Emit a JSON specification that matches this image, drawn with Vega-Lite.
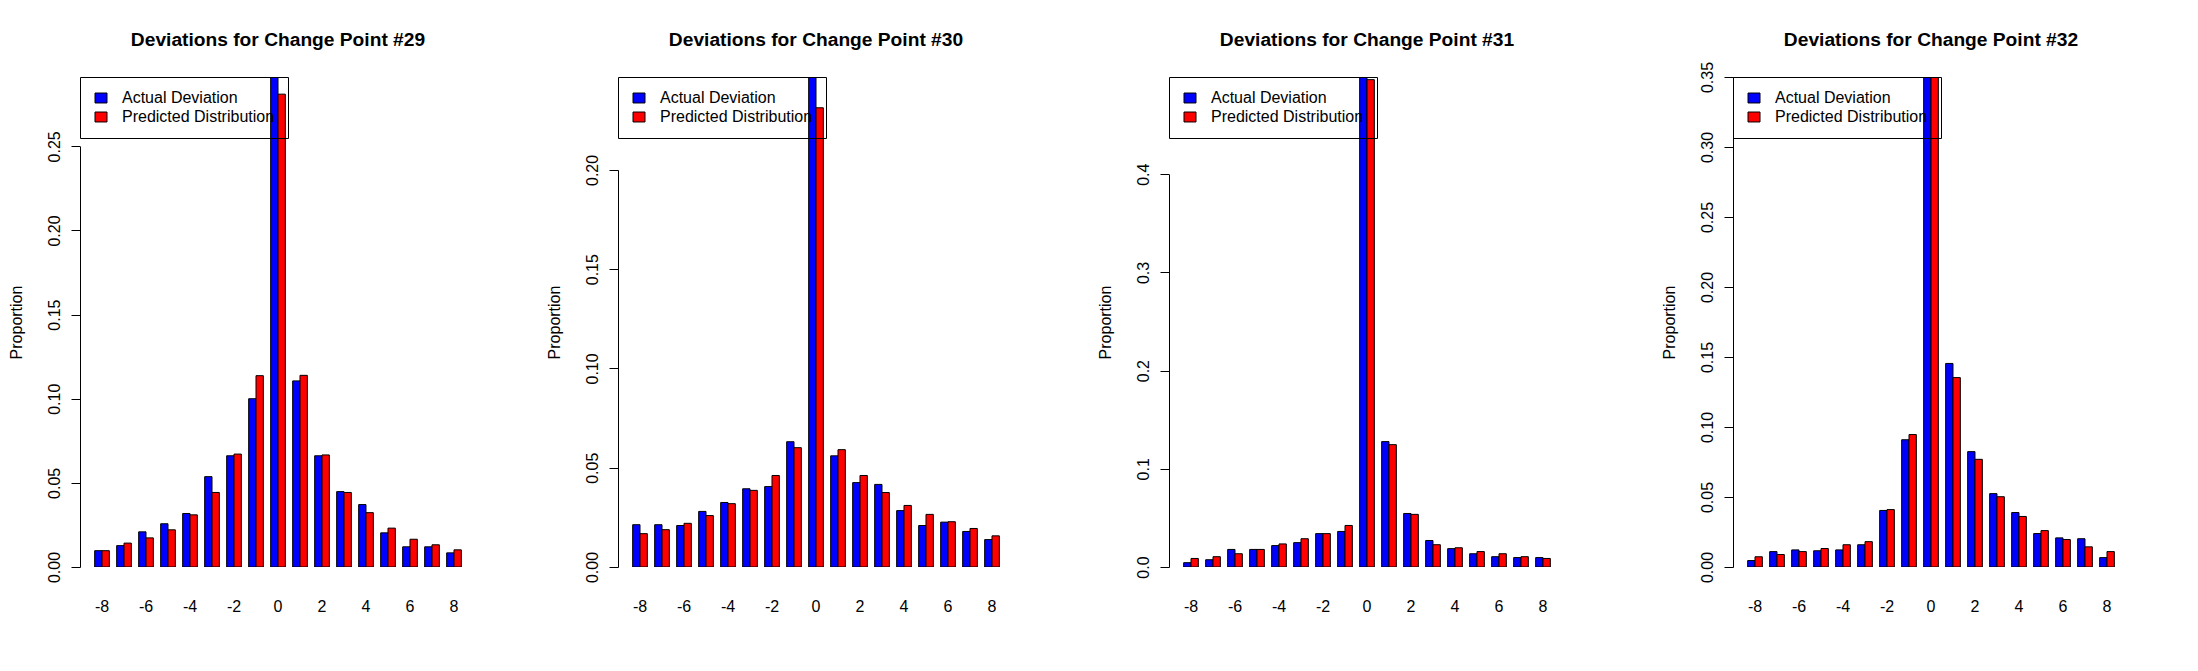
{
  "$schema": "https://vega.github.io/schema/vega-lite/v6.json",
  "description": "Actual deviation vs predicted distribution for change points 29-32.",
  "padding": {"left": 8, "top": 31, "right": 0, "bottom": 0},
  "background": "white",
  "datasets": {
    "cp29": [
      {"deviation": -8, "series": "Actual Deviation", "proportion": 0.0097}, {"deviation": -8, "series": "Predicted Distribution", "proportion": 0.0097},
      {"deviation": -7, "series": "Actual Deviation", "proportion": 0.0127}, {"deviation": -7, "series": "Predicted Distribution", "proportion": 0.0142},
      {"deviation": -6, "series": "Actual Deviation", "proportion": 0.0209}, {"deviation": -6, "series": "Predicted Distribution", "proportion": 0.0173},
      {"deviation": -5, "series": "Actual Deviation", "proportion": 0.0257}, {"deviation": -5, "series": "Predicted Distribution", "proportion": 0.0221},
      {"deviation": -4, "series": "Actual Deviation", "proportion": 0.0318}, {"deviation": -4, "series": "Predicted Distribution", "proportion": 0.0310},
      {"deviation": -3, "series": "Actual Deviation", "proportion": 0.0537}, {"deviation": -3, "series": "Predicted Distribution", "proportion": 0.0443},
      {"deviation": -2, "series": "Actual Deviation", "proportion": 0.0661}, {"deviation": -2, "series": "Predicted Distribution", "proportion": 0.0671},
      {"deviation": -1, "series": "Actual Deviation", "proportion": 0.1000}, {"deviation": -1, "series": "Predicted Distribution", "proportion": 0.1137},
      {"deviation": 0, "series": "Actual Deviation", "proportion": 0.2912}, {"deviation": 0, "series": "Predicted Distribution", "proportion": 0.2810},
      {"deviation": 1, "series": "Actual Deviation", "proportion": 0.1106}, {"deviation": 1, "series": "Predicted Distribution", "proportion": 0.1139},
      {"deviation": 2, "series": "Actual Deviation", "proportion": 0.0661}, {"deviation": 2, "series": "Predicted Distribution", "proportion": 0.0666},
      {"deviation": 3, "series": "Actual Deviation", "proportion": 0.0448}, {"deviation": 3, "series": "Predicted Distribution", "proportion": 0.0443},
      {"deviation": 4, "series": "Actual Deviation", "proportion": 0.0371}, {"deviation": 4, "series": "Predicted Distribution", "proportion": 0.0323},
      {"deviation": 5, "series": "Actual Deviation", "proportion": 0.0203}, {"deviation": 5, "series": "Predicted Distribution", "proportion": 0.0231},
      {"deviation": 6, "series": "Actual Deviation", "proportion": 0.0120}, {"deviation": 6, "series": "Predicted Distribution", "proportion": 0.0165},
      {"deviation": 7, "series": "Actual Deviation", "proportion": 0.0120}, {"deviation": 7, "series": "Predicted Distribution", "proportion": 0.0132},
      {"deviation": 8, "series": "Actual Deviation", "proportion": 0.0084}, {"deviation": 8, "series": "Predicted Distribution", "proportion": 0.0102}
    ],
    "cp30": [
      {"deviation": -8, "series": "Actual Deviation", "proportion": 0.0213}, {"deviation": -8, "series": "Predicted Distribution", "proportion": 0.0168},
      {"deviation": -7, "series": "Actual Deviation", "proportion": 0.0213}, {"deviation": -7, "series": "Predicted Distribution", "proportion": 0.0188},
      {"deviation": -6, "series": "Actual Deviation", "proportion": 0.0209}, {"deviation": -6, "series": "Predicted Distribution", "proportion": 0.0220},
      {"deviation": -5, "series": "Actual Deviation", "proportion": 0.0280}, {"deviation": -5, "series": "Predicted Distribution", "proportion": 0.0259},
      {"deviation": -4, "series": "Actual Deviation", "proportion": 0.0325}, {"deviation": -4, "series": "Predicted Distribution", "proportion": 0.0319},
      {"deviation": -3, "series": "Actual Deviation", "proportion": 0.0394}, {"deviation": -3, "series": "Predicted Distribution", "proportion": 0.0386},
      {"deviation": -2, "series": "Actual Deviation", "proportion": 0.0405}, {"deviation": -2, "series": "Predicted Distribution", "proportion": 0.0461},
      {"deviation": -1, "series": "Actual Deviation", "proportion": 0.0631}, {"deviation": -1, "series": "Predicted Distribution", "proportion": 0.0601},
      {"deviation": 0, "series": "Actual Deviation", "proportion": 0.2468}, {"deviation": 0, "series": "Predicted Distribution", "proportion": 0.2313},
      {"deviation": 1, "series": "Actual Deviation", "proportion": 0.0560}, {"deviation": 1, "series": "Predicted Distribution", "proportion": 0.0591},
      {"deviation": 2, "series": "Actual Deviation", "proportion": 0.0425}, {"deviation": 2, "series": "Predicted Distribution", "proportion": 0.0461},
      {"deviation": 3, "series": "Actual Deviation", "proportion": 0.0416}, {"deviation": 3, "series": "Predicted Distribution", "proportion": 0.0375},
      {"deviation": 4, "series": "Actual Deviation", "proportion": 0.0284}, {"deviation": 4, "series": "Predicted Distribution", "proportion": 0.0310},
      {"deviation": 5, "series": "Actual Deviation", "proportion": 0.0209}, {"deviation": 5, "series": "Predicted Distribution", "proportion": 0.0265},
      {"deviation": 6, "series": "Actual Deviation", "proportion": 0.0226}, {"deviation": 6, "series": "Predicted Distribution", "proportion": 0.0228},
      {"deviation": 7, "series": "Actual Deviation", "proportion": 0.0179}, {"deviation": 7, "series": "Predicted Distribution", "proportion": 0.0194},
      {"deviation": 8, "series": "Actual Deviation", "proportion": 0.0138}, {"deviation": 8, "series": "Predicted Distribution", "proportion": 0.0157}
    ],
    "cp31": [
      {"deviation": -8, "series": "Actual Deviation", "proportion": 0.0044}, {"deviation": -8, "series": "Predicted Distribution", "proportion": 0.0087},
      {"deviation": -7, "series": "Actual Deviation", "proportion": 0.0074}, {"deviation": -7, "series": "Predicted Distribution", "proportion": 0.0105},
      {"deviation": -6, "series": "Actual Deviation", "proportion": 0.0179}, {"deviation": -6, "series": "Predicted Distribution", "proportion": 0.0135},
      {"deviation": -5, "series": "Actual Deviation", "proportion": 0.0179}, {"deviation": -5, "series": "Predicted Distribution", "proportion": 0.0179},
      {"deviation": -4, "series": "Actual Deviation", "proportion": 0.0218}, {"deviation": -4, "series": "Predicted Distribution", "proportion": 0.0235},
      {"deviation": -3, "series": "Actual Deviation", "proportion": 0.0248}, {"deviation": -3, "series": "Predicted Distribution", "proportion": 0.0288},
      {"deviation": -2, "series": "Actual Deviation", "proportion": 0.0340}, {"deviation": -2, "series": "Predicted Distribution", "proportion": 0.0340},
      {"deviation": -1, "series": "Actual Deviation", "proportion": 0.0362}, {"deviation": -1, "series": "Predicted Distribution", "proportion": 0.0423},
      {"deviation": 0, "series": "Actual Deviation", "proportion": 0.4990}, {"deviation": 0, "series": "Predicted Distribution", "proportion": 0.4963},
      {"deviation": 1, "series": "Actual Deviation", "proportion": 0.1277}, {"deviation": 1, "series": "Predicted Distribution", "proportion": 0.1246},
      {"deviation": 2, "series": "Actual Deviation", "proportion": 0.0545}, {"deviation": 2, "series": "Predicted Distribution", "proportion": 0.0536},
      {"deviation": 3, "series": "Actual Deviation", "proportion": 0.0270}, {"deviation": 3, "series": "Predicted Distribution", "proportion": 0.0227},
      {"deviation": 4, "series": "Actual Deviation", "proportion": 0.0187}, {"deviation": 4, "series": "Predicted Distribution", "proportion": 0.0196},
      {"deviation": 5, "series": "Actual Deviation", "proportion": 0.0135}, {"deviation": 5, "series": "Predicted Distribution", "proportion": 0.0157},
      {"deviation": 6, "series": "Actual Deviation", "proportion": 0.0105}, {"deviation": 6, "series": "Predicted Distribution", "proportion": 0.0135},
      {"deviation": 7, "series": "Actual Deviation", "proportion": 0.0096}, {"deviation": 7, "series": "Predicted Distribution", "proportion": 0.0105},
      {"deviation": 8, "series": "Actual Deviation", "proportion": 0.0096}, {"deviation": 8, "series": "Predicted Distribution", "proportion": 0.0087}
    ],
    "cp32": [
      {"deviation": -8, "series": "Actual Deviation", "proportion": 0.0046}, {"deviation": -8, "series": "Predicted Distribution", "proportion": 0.0073},
      {"deviation": -7, "series": "Actual Deviation", "proportion": 0.0110}, {"deviation": -7, "series": "Predicted Distribution", "proportion": 0.0089},
      {"deviation": -6, "series": "Actual Deviation", "proportion": 0.0122}, {"deviation": -6, "series": "Predicted Distribution", "proportion": 0.0110},
      {"deviation": -5, "series": "Actual Deviation", "proportion": 0.0116}, {"deviation": -5, "series": "Predicted Distribution", "proportion": 0.0132},
      {"deviation": -4, "series": "Actual Deviation", "proportion": 0.0122}, {"deviation": -4, "series": "Predicted Distribution", "proportion": 0.0159},
      {"deviation": -3, "series": "Actual Deviation", "proportion": 0.0159}, {"deviation": -3, "series": "Predicted Distribution", "proportion": 0.0181},
      {"deviation": -2, "series": "Actual Deviation", "proportion": 0.0404}, {"deviation": -2, "series": "Predicted Distribution", "proportion": 0.0410},
      {"deviation": -1, "series": "Actual Deviation", "proportion": 0.0909}, {"deviation": -1, "series": "Predicted Distribution", "proportion": 0.0946},
      {"deviation": 0, "series": "Actual Deviation", "proportion": 0.3500}, {"deviation": 0, "series": "Predicted Distribution", "proportion": 0.3500},
      {"deviation": 1, "series": "Actual Deviation", "proportion": 0.1454}, {"deviation": 1, "series": "Predicted Distribution", "proportion": 0.1353},
      {"deviation": 2, "series": "Actual Deviation", "proportion": 0.0824}, {"deviation": 2, "series": "Predicted Distribution", "proportion": 0.0769},
      {"deviation": 3, "series": "Actual Deviation", "proportion": 0.0524}, {"deviation": 3, "series": "Predicted Distribution", "proportion": 0.0502},
      {"deviation": 4, "series": "Actual Deviation", "proportion": 0.0389}, {"deviation": 4, "series": "Predicted Distribution", "proportion": 0.0361},
      {"deviation": 5, "series": "Actual Deviation", "proportion": 0.0239}, {"deviation": 5, "series": "Predicted Distribution", "proportion": 0.0260},
      {"deviation": 6, "series": "Actual Deviation", "proportion": 0.0208}, {"deviation": 6, "series": "Predicted Distribution", "proportion": 0.0196},
      {"deviation": 7, "series": "Actual Deviation", "proportion": 0.0202}, {"deviation": 7, "series": "Predicted Distribution", "proportion": 0.0144},
      {"deviation": 8, "series": "Actual Deviation", "proportion": 0.0067}, {"deviation": 8, "series": "Predicted Distribution", "proportion": 0.0110}
    ]
  },
  "spacing": 83,
  "resolve": {"scale": {"x": "independent", "y": "independent", "color": "independent"}},
  "hconcat": [
    {
      "spacing": 70,
      "resolve": {"scale": {"x": "independent", "y": "independent", "color": "independent"}},
      "hconcat": [
        {
          "width": 396, "height": 490,
          "data": {"name": "cp29"},
          "title": {"text": "Deviations for Change Point #29", "offset": 26},
          "mark": {"type": "bar", "stroke": "black", "strokeWidth": 1, "clip": true},
          "encoding": {
            "x": {"field": "deviation", "type": "ordinal", "scale": {"paddingInner": 0.3333, "paddingOuter": 0.6667},
                  "axis": {"values": [-8, -6, -4, -2, 0, 2, 4, 6, 8]}},
            "xOffset": {"field": "series", "scale": {"paddingInner": 0, "paddingOuter": 0}},
            "y": {"field": "proportion", "type": "quantitative", "title": "Proportion", "scale": {"domain": [0, 0.2912], "nice": false},
                  "axis": {"values": [0, 0.05, 0.1, 0.15, 0.2, 0.25], "format": ".2f", "domainDash": [420.7, 2000]}},
            "color": {"field": "series", "scale": {"range": ["#0000ff", "#ff0000"]}}
          }
        },
        {
          "width": 396, "height": 490,
          "data": {"name": "cp30"},
          "title": {"text": "Deviations for Change Point #30", "offset": 26},
          "mark": {"type": "bar", "stroke": "black", "strokeWidth": 1, "clip": true},
          "encoding": {
            "x": {"field": "deviation", "type": "ordinal", "scale": {"paddingInner": 0.3333, "paddingOuter": 0.6667},
                  "axis": {"values": [-8, -6, -4, -2, 0, 2, 4, 6, 8]}},
            "xOffset": {"field": "series", "scale": {"paddingInner": 0, "paddingOuter": 0}},
            "y": {"field": "proportion", "type": "quantitative", "title": "Proportion", "scale": {"domain": [0, 0.2468], "nice": false},
                  "axis": {"values": [0, 0.05, 0.1, 0.15, 0.2], "format": ".2f", "domainDash": [397.1, 2000]}},
            "color": {"field": "series", "scale": {"range": ["#0000ff", "#ff0000"]}}
          }
        }
      ]
    },
    {
      "spacing": 96,
      "resolve": {"scale": {"x": "independent", "y": "independent", "color": "independent"}},
      "hconcat": [
        {
          "width": 396, "height": 490,
          "data": {"name": "cp31"},
          "title": {"text": "Deviations for Change Point #31", "offset": 26},
          "mark": {"type": "bar", "stroke": "black", "strokeWidth": 1, "clip": true},
          "encoding": {
            "x": {"field": "deviation", "type": "ordinal", "scale": {"paddingInner": 0.3333, "paddingOuter": 0.6667},
                  "axis": {"values": [-8, -6, -4, -2, 0, 2, 4, 6, 8]}},
            "xOffset": {"field": "series", "scale": {"paddingInner": 0, "paddingOuter": 0}},
            "y": {"field": "proportion", "type": "quantitative", "title": "Proportion", "scale": {"domain": [0, 0.499], "nice": false},
                  "axis": {"values": [0, 0.1, 0.2, 0.3, 0.4], "format": ".1f", "domainDash": [392.8, 2000]}},
            "color": {"field": "series", "scale": {"range": ["#0000ff", "#ff0000"]}}
          }
        },
        {
          "width": 396, "height": 490,
          "data": {"name": "cp32"},
          "title": {"text": "Deviations for Change Point #32", "offset": 11},
          "mark": {"type": "bar", "stroke": "black", "strokeWidth": 1, "clip": true},
          "encoding": {
            "x": {"field": "deviation", "type": "ordinal", "scale": {"paddingInner": 0.3333, "paddingOuter": 0.6667},
                  "axis": {"values": [-8, -6, -4, -2, 0, 2, 4, 6, 8]}},
            "xOffset": {"field": "series", "scale": {"paddingInner": 0, "paddingOuter": 0}},
            "y": {"field": "proportion", "type": "quantitative", "title": "Proportion", "scale": {"domain": [0, 0.35], "nice": false},
                  "axis": {"values": [0, 0.05, 0.1, 0.15, 0.2, 0.25, 0.3, 0.35], "format": ".2f"}},
            "color": {"field": "series", "scale": {"range": ["#0000ff", "#ff0000"]}}
          }
        }
      ]
    }
  ],
  "config": {
    "font": "Liberation Sans",
    "view": {"stroke": null},
    "title": {"fontSize": 19.2, "fontWeight": "bold", "color": "black", "anchor": "middle", "frame": "group", "baseline": "alphabetic"},
    "axis": {"grid": false, "labelFontSize": 16, "labelColor": "black", "titleFontSize": 16, "titleFontWeight": "normal", "titleColor": "black",
             "tickColor": "black", "domainColor": "black", "labelFont": "Liberation Sans", "titleFont": "Liberation Sans"},
    "axisX": {"domain": false, "ticks": false, "labelAngle": 0, "labelPadding": 31, "title": null},
    "axisY": {"labelAngle": -90, "tickSize": 9, "labelPadding": 9, "titlePadding": 22, "domainCap": "butt"},
    "legend": {"orient": "top-left", "offset": 0, "title": null, "strokeColor": "black", "padding": 13, "labelFontSize": 16,
               "labelColor": "black", "labelFont": "Liberation Sans", "labelOffset": 13, "rowPadding": 3,
               "symbolType": "M-1,-0.83H1V0.83H-1Z", "symbolSize": 144, "symbolStrokeColor": "black", "symbolStrokeWidth": 1,
               "symbolOpacity": 1, "labelLimit": 400}
  }
}
